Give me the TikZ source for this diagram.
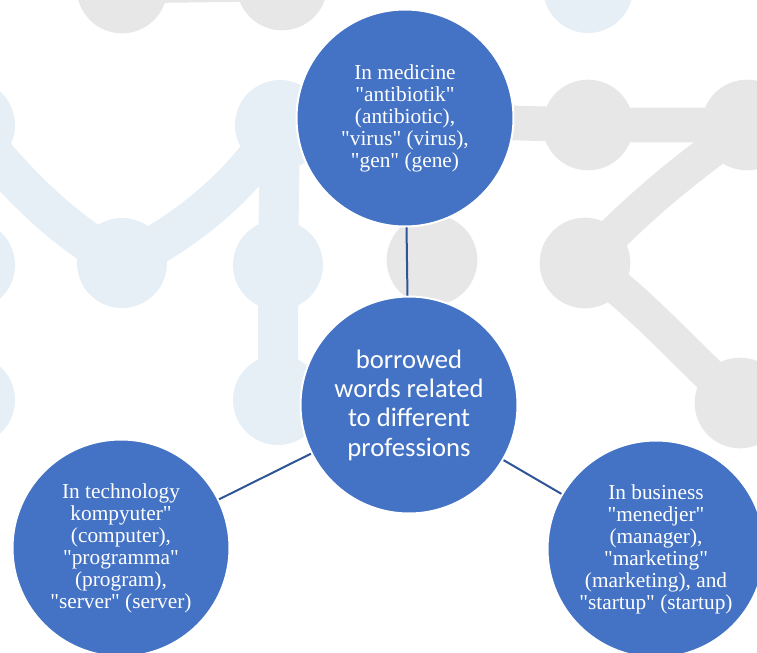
\documentclass[tikz,border=0pt]{standalone}
\usepackage{fontspec}
\setmainfont{Liberation Serif}[Ligatures=TeXOff]
\newfontfamily\calibrifont{Carlito}[Ligatures=TeXOff]
\definecolor{nodeblue}{HTML}{4472C4}
\definecolor{linkblue}{HTML}{2F5597}
\definecolor{bgblue}{HTML}{E6EEF6}
\definecolor{bggrey}{HTML}{E7E7E7}
\begin{document}
\begin{tikzpicture}[x=0.75pt,y=-0.75pt,
  bubble/.style={circle, fill=nodeblue, draw=white, line width=1.5pt,
    minimum size=162.75pt, inner sep=0pt, text=white, align=center,
    font={\fontsize{16}{16.5}\selectfont}},
  hub/.style={bubble, font={\calibrifont\fontsize{20}{22}\selectfont}},
  link/.style={draw=linkblue, line width=1.5pt},
  bbar/.style={draw=bgblue, line width=30pt, line cap=round},
  gbar/.style={draw=bggrey, line width=26pt, line cap=round},
  bdot/.style={fill=bgblue},
  gdot/.style={fill=bggrey}]
\useasboundingbox (0,0) rectangle (757,653);
\begin{scope}
  \clip (0,0) rectangle (757,653);
  % light blue background network
  \draw[bbar] (-30,125) .. controls (20,190) and (70,235) .. (122,263);
  \draw[bbar] (122,263) .. controls (180,235) and (240,190) .. (280,125);
  \draw[bbar] (280,125) -- (278,265) -- (278,400);
  \foreach \p in {(-30,125),(280,125),(122,263),(278,265),(278,400),(-30,265),(-30,400),(588,-12),(607,565)}
    \fill[bdot] \p circle[radius=33.75pt];
  % grey background network
  \draw[gbar] (122,-14) -- (282,-16);
  \draw[gbar] (405,120) -- (588,125) -- (747,125);
  \draw[gbar] (747,125) .. controls (690,165) and (640,205) .. (585,263);
  \draw[gbar] (585,263) .. controls (640,300) and (690,360) .. (740,403);
  \foreach \p in {(122,-12),(282,-15),(588,125),(747,125),(585,263),(740,403),(432,260)}
    \fill[gdot] \p circle[radius=34pt];
\end{scope}
% diagram
\node[bubble] (med) at (405,118) {In medicine\\"antibiotik"\\(antibiotic),\\"virus" (virus),\\"gen" (gene)};
\node[hub] (hub) at (409,405) {borrowed\\words related\\to different\\professions};
\node[bubble] (tech) at (121,548) {In technology\\kompyuter"\\(computer),\\"programma"\\(program),\\"server" (server)};
\node[bubble] (bus) at (656,549) {In business\\"menedjer"\\(manager),\\"marketing"\\(marketing), and\\"startup" (startup)};
\draw[link] (med) -- (hub);
\draw[link] (hub) -- (tech);
\draw[link] (hub) -- (bus);
\end{tikzpicture}
\end{document}
